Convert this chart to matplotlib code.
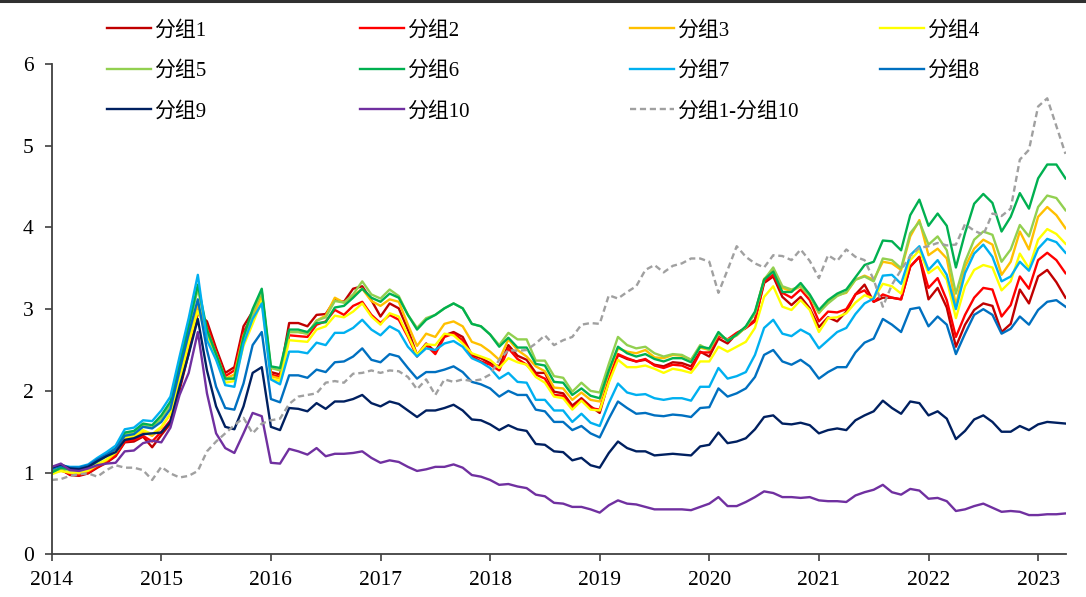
import numpy as np
import matplotlib
matplotlib.use("Agg")
import matplotlib.pyplot as plt
from matplotlib.lines import Line2D

plt.rcParams['font.family'] = ['Liberation Serif', 'Noto Sans CJK SC', 'DejaVu Sans']

# ---------------- data (monthly, Jan 2014 .. Apr 2023) ----------------
start_year = 2014
year_ticks = [2014, 2015, 2016, 2017, 2018, 2019, 2020, 2021, 2022, 2023]
y_ticks = [0, 1, 2, 3, 4, 5, 6]

labels = ['分组1', '分组2', '分组3', '分组4', '分组5', '分组6', '分组7', '分组8', '分组9', '分组10']
spread_label = '分组1-分组10'

g1 = [1.03, 1.04, 0.97, 0.96, 0.99, 1.06, 1.12, 1.20, 1.37, 1.38, 1.44, 1.31,
      1.46, 1.60, 2.01, 2.46, 2.95, 2.85, 2.52, 2.22, 2.29, 2.79, 2.97, 3.20,
      2.23, 2.20, 2.83, 2.83, 2.79, 2.93, 2.94, 3.11, 3.09, 3.25, 3.28, 3.11,
      2.91, 3.07, 3.01, 2.75, 2.44, 2.58, 2.48, 2.68, 2.72, 2.66, 2.44, 2.40,
      2.34, 2.30, 2.56, 2.43, 2.38, 2.22, 2.22, 1.99, 1.97, 1.82, 1.91, 1.81,
      1.73, 2.12, 2.44, 2.39, 2.36, 2.38, 2.32, 2.30, 2.35, 2.34, 2.30, 2.48,
      2.42, 2.64, 2.58, 2.70, 2.77, 2.87, 3.32, 3.40, 3.15, 3.05, 3.15, 3.01,
      2.78, 2.90, 2.85, 2.97, 3.18, 3.30, 3.09, 3.14, 3.14, 3.12, 3.52, 3.64,
      3.12, 3.26, 3.02, 2.54, 2.81, 2.99, 3.07, 3.04, 2.72, 2.82, 3.24, 3.07,
      3.40, 3.48, 3.33, 3.14]
g2 = [1.02, 1.03, 0.98, 0.97, 1.00, 1.07, 1.13, 1.21, 1.38, 1.40, 1.45, 1.38,
      1.50, 1.64, 2.05, 2.50, 3.00, 2.80, 2.48, 2.18, 2.25, 2.72, 2.92, 3.18,
      2.20, 2.17, 2.68, 2.67, 2.66, 2.81, 2.85, 2.99, 2.93, 3.04, 3.09, 2.93,
      2.83, 2.93, 2.87, 2.66, 2.42, 2.56, 2.45, 2.66, 2.70, 2.62, 2.42, 2.36,
      2.32, 2.25, 2.52, 2.39, 2.32, 2.20, 2.15, 1.95, 1.94, 1.79, 1.89, 1.79,
      1.77, 2.14, 2.45, 2.40, 2.36, 2.39, 2.31, 2.28, 2.32, 2.31, 2.26, 2.47,
      2.47, 2.67, 2.63, 2.71, 2.77, 2.85, 3.34, 3.42, 3.20, 3.14, 3.24, 3.11,
      2.85, 2.97, 2.96, 3.00, 3.18, 3.23, 3.09, 3.18, 3.14, 3.12, 3.52, 3.64,
      3.26, 3.38, 3.11, 2.66, 2.93, 3.14, 3.26, 3.24, 2.91, 3.05, 3.40, 3.25,
      3.60, 3.69, 3.60, 3.44]
g3 = [1.00, 1.02, 1.00, 0.99, 1.02, 1.09, 1.15, 1.24, 1.41, 1.43, 1.50, 1.45,
      1.55, 1.72, 2.15, 2.62, 3.05, 2.75, 2.45, 2.15, 2.20, 2.68, 2.90, 3.15,
      2.18, 2.15, 2.72, 2.72, 2.70, 2.86, 2.92, 3.14, 3.08, 3.16, 3.25, 3.10,
      3.04, 3.12, 3.09, 2.81, 2.55, 2.70, 2.66, 2.82, 2.85, 2.79, 2.60, 2.56,
      2.48, 2.38, 2.63, 2.50, 2.42, 2.30, 2.24, 2.04, 2.03, 1.89, 1.98, 1.89,
      1.87, 2.22, 2.52, 2.48, 2.46, 2.50, 2.41, 2.40, 2.44, 2.43, 2.38, 2.53,
      2.50, 2.70, 2.62, 2.68, 2.78, 2.95, 3.37, 3.47, 3.26, 3.22, 3.28, 3.16,
      2.95, 3.09, 3.17, 3.20, 3.36, 3.41, 3.36, 3.58, 3.56, 3.48, 3.89, 4.09,
      3.66, 3.74, 3.62, 3.05, 3.52, 3.74, 3.85, 3.79, 3.42, 3.58, 3.95, 3.73,
      4.13, 4.25, 4.15, 3.99]
g4 = [0.98, 1.02, 1.00, 1.00, 1.03, 1.10, 1.16, 1.25, 1.43, 1.45, 1.52, 1.47,
      1.56, 1.72, 2.12, 2.58, 2.98, 2.70, 2.40, 2.10, 2.12, 2.55, 2.82, 3.10,
      2.15, 2.12, 2.62, 2.61, 2.60, 2.75, 2.79, 2.92, 2.90, 2.97, 3.07, 2.91,
      2.81, 2.95, 2.91, 2.68, 2.44, 2.57, 2.56, 2.70, 2.68, 2.58, 2.46, 2.42,
      2.38, 2.28, 2.40, 2.35, 2.32, 2.17, 2.10, 1.93, 1.91, 1.77, 1.88, 1.77,
      1.76, 2.10, 2.38, 2.29, 2.29, 2.31, 2.27, 2.22, 2.27, 2.25, 2.22, 2.36,
      2.36, 2.54, 2.48, 2.54, 2.60, 2.77, 3.15, 3.28, 3.03, 2.99, 3.11, 2.99,
      2.72, 2.89, 2.90, 2.95, 3.08, 3.17, 3.13, 3.31, 3.28, 3.19, 3.60, 3.72,
      3.44, 3.52, 3.36, 2.89, 3.28, 3.48, 3.54, 3.51, 3.23, 3.34, 3.68, 3.50,
      3.85, 3.98, 3.92, 3.80]
g5 = [1.01, 1.05, 1.03, 1.03, 1.06, 1.13, 1.20, 1.29, 1.47, 1.49, 1.58, 1.55,
      1.66, 1.83, 2.30, 2.78, 3.25, 2.72, 2.45, 2.14, 2.15, 2.65, 2.95, 3.22,
      2.28, 2.25, 2.72, 2.72, 2.70, 2.86, 2.90, 3.10, 3.08, 3.18, 3.34, 3.18,
      3.13, 3.24, 3.16, 2.93, 2.77, 2.89, 2.93, 3.01, 3.07, 3.01, 2.82, 2.79,
      2.69, 2.56, 2.71, 2.63, 2.63, 2.37, 2.37, 2.18, 2.16, 1.99, 2.10, 2.00,
      1.98, 2.33, 2.66, 2.56, 2.52, 2.54, 2.46, 2.42, 2.45, 2.44, 2.38, 2.56,
      2.50, 2.70, 2.62, 2.68, 2.78, 2.95, 3.36, 3.51, 3.28, 3.24, 3.28, 3.16,
      2.96, 3.07, 3.16, 3.21, 3.36, 3.40, 3.34, 3.62, 3.60, 3.50, 3.93, 4.07,
      3.79, 3.89, 3.72, 3.19, 3.58, 3.85, 3.95, 3.91, 3.58, 3.73, 4.03, 3.89,
      4.25, 4.39, 4.36, 4.21]
g6 = [1.00, 1.06, 1.04, 1.04, 1.07, 1.14, 1.21, 1.30, 1.49, 1.51, 1.60, 1.58,
      1.70, 1.87, 2.33, 2.80, 3.30, 2.75, 2.45, 2.15, 2.15, 2.66, 3.00, 3.25,
      2.30, 2.28, 2.75, 2.75, 2.72, 2.83, 2.84, 3.02, 3.04, 3.14, 3.25, 3.14,
      3.09, 3.19, 3.14, 2.93, 2.75, 2.87, 2.93, 3.01, 3.07, 3.01, 2.82, 2.79,
      2.69, 2.54, 2.65, 2.53, 2.53, 2.33, 2.31, 2.11, 2.10, 1.95, 2.03, 1.94,
      1.91, 2.25, 2.54, 2.46, 2.42, 2.45, 2.39, 2.36, 2.40, 2.40, 2.35, 2.54,
      2.52, 2.72, 2.61, 2.69, 2.79, 2.97, 3.36, 3.46, 3.21, 3.21, 3.32, 3.18,
      2.99, 3.11, 3.19, 3.24, 3.39, 3.54, 3.58, 3.84, 3.83, 3.72, 4.15, 4.34,
      4.02, 4.17, 4.02, 3.51, 3.93, 4.29, 4.41, 4.30, 3.95, 4.13, 4.42, 4.23,
      4.60, 4.77, 4.77, 4.60]
g7 = [1.04, 1.09, 1.07, 1.07, 1.10, 1.18, 1.25, 1.33, 1.53, 1.55, 1.64, 1.63,
      1.76, 1.93, 2.42, 2.89, 3.42, 2.62, 2.38, 2.07, 2.05, 2.58, 2.88, 3.07,
      2.14, 2.08, 2.48, 2.48, 2.46, 2.59, 2.56, 2.71, 2.71, 2.77, 2.87, 2.75,
      2.68, 2.79, 2.73, 2.54, 2.42, 2.52, 2.50, 2.58, 2.61, 2.54, 2.40, 2.35,
      2.28, 2.15, 2.22, 2.11, 2.10, 1.89, 1.89, 1.76, 1.76, 1.62, 1.72, 1.61,
      1.57, 1.85, 2.09, 1.98, 1.95, 1.96, 1.91, 1.89, 1.91, 1.91, 1.88, 2.05,
      2.05, 2.28, 2.15, 2.18, 2.23, 2.44, 2.77, 2.87, 2.70, 2.67, 2.75, 2.69,
      2.52, 2.62, 2.72, 2.77, 2.94, 3.07, 3.13, 3.41, 3.42, 3.31, 3.66, 3.77,
      3.48, 3.60, 3.42, 3.00, 3.44, 3.68, 3.79, 3.64, 3.34, 3.40, 3.58, 3.47,
      3.74, 3.86, 3.82, 3.69]
g8 = [1.05, 1.08, 1.06, 1.06, 1.09, 1.16, 1.22, 1.29, 1.45, 1.47, 1.56, 1.54,
      1.62, 1.78, 2.25, 2.70, 3.12, 2.50, 2.05, 1.79, 1.77, 2.09, 2.56, 2.72,
      1.90, 1.86, 2.19, 2.19, 2.16, 2.26, 2.23, 2.35, 2.36, 2.42, 2.52, 2.38,
      2.35, 2.45, 2.42, 2.28, 2.15, 2.23, 2.23, 2.26, 2.30, 2.23, 2.11, 2.08,
      2.03, 1.93, 2.00, 1.95, 1.95, 1.77, 1.75, 1.62, 1.62, 1.52, 1.57, 1.48,
      1.43, 1.66, 1.87, 1.79, 1.72, 1.73, 1.70, 1.69, 1.71, 1.70, 1.68, 1.79,
      1.80, 2.03, 1.93, 1.97, 2.03, 2.17, 2.44, 2.50, 2.36, 2.32, 2.38, 2.30,
      2.15, 2.23, 2.29, 2.29, 2.47, 2.59, 2.64, 2.88, 2.81, 2.72, 3.00, 3.02,
      2.79, 2.91, 2.81, 2.45, 2.70, 2.93, 3.00, 2.93, 2.70, 2.76, 2.91, 2.81,
      2.99, 3.09, 3.11, 3.03]
g9 = [1.06, 1.10, 1.05, 1.04, 1.07, 1.14, 1.20, 1.25, 1.40, 1.42, 1.47, 1.48,
      1.49, 1.62, 2.05, 2.45, 2.88, 2.25, 1.81, 1.56, 1.53, 1.81, 2.22, 2.29,
      1.56, 1.52, 1.79, 1.78, 1.75, 1.85, 1.78, 1.87, 1.87, 1.90, 1.95, 1.85,
      1.81, 1.87, 1.84, 1.76, 1.68, 1.76, 1.76, 1.79, 1.83, 1.76, 1.65, 1.64,
      1.59, 1.52, 1.58, 1.53, 1.51, 1.35, 1.34, 1.26, 1.25, 1.15, 1.18, 1.09,
      1.06, 1.24, 1.38, 1.30, 1.26, 1.26, 1.21, 1.22, 1.23, 1.22, 1.21, 1.32,
      1.34, 1.49, 1.36, 1.38, 1.42, 1.53, 1.68, 1.70, 1.60, 1.59, 1.61, 1.58,
      1.48, 1.52, 1.54, 1.52, 1.64, 1.70, 1.75, 1.88, 1.79, 1.72, 1.87, 1.85,
      1.70, 1.75, 1.66, 1.41, 1.51, 1.65, 1.70, 1.62, 1.50, 1.50, 1.57, 1.52,
      1.59, 1.62, 1.61, 1.60]
g10 = [1.07, 1.11, 1.03, 1.02, 1.05, 1.09, 1.11, 1.12, 1.26, 1.27, 1.36, 1.39,
       1.37, 1.55, 1.95, 2.22, 2.72, 1.97, 1.48, 1.30, 1.24, 1.48, 1.73, 1.69,
       1.12, 1.11, 1.29, 1.26, 1.22, 1.30, 1.20, 1.23, 1.23, 1.24, 1.26, 1.18,
       1.12, 1.15, 1.13, 1.07, 1.02, 1.04, 1.07, 1.07, 1.10, 1.06, 0.97, 0.95,
       0.91, 0.85, 0.86, 0.83, 0.81, 0.73, 0.71, 0.63, 0.62, 0.58, 0.58, 0.55,
       0.51, 0.60, 0.66, 0.62, 0.61, 0.58, 0.55, 0.55, 0.55, 0.55, 0.54, 0.58,
       0.62, 0.70, 0.59, 0.59, 0.64, 0.70, 0.77, 0.75, 0.70, 0.70, 0.69, 0.70,
       0.66, 0.65, 0.65, 0.64, 0.72, 0.76, 0.79, 0.85, 0.76, 0.73, 0.80, 0.78,
       0.68, 0.69, 0.65, 0.53, 0.55, 0.59, 0.62, 0.57, 0.52, 0.53, 0.52, 0.48,
       0.48, 0.49, 0.49, 0.50]
spread = [0.91, 0.92, 0.96, 0.98, 0.99, 0.95, 1.03, 1.09, 1.06, 1.06, 1.03, 0.91,
          1.07, 0.99, 0.94, 0.96, 1.02, 1.26, 1.38, 1.48, 1.58, 1.67, 1.48, 1.60,
          1.64, 1.66, 1.84, 1.93, 1.95, 1.97, 2.10, 2.12, 2.10, 2.21, 2.22, 2.25,
          2.22, 2.25, 2.24, 2.17, 2.02, 2.14, 1.95, 2.14, 2.11, 2.14, 2.12, 2.14,
          2.20, 2.38, 2.50, 2.49, 2.50, 2.58, 2.68, 2.56, 2.62, 2.66, 2.81, 2.83,
          2.82, 3.17, 3.13, 3.21, 3.28, 3.48, 3.54, 3.45, 3.53, 3.56, 3.62, 3.62,
          3.58, 3.20, 3.48, 3.77, 3.64, 3.56, 3.51, 3.66, 3.65, 3.60, 3.73, 3.59,
          3.38, 3.66, 3.59, 3.73, 3.64, 3.60, 3.36, 3.03, 3.30, 3.48, 3.65, 3.75,
          3.77, 3.81, 3.78, 3.79, 4.04, 3.96, 3.91, 4.17, 4.14, 4.23, 4.83, 4.95,
          5.48, 5.58, 5.24, 4.90]

series = [g1, g2, g3, g4, g5, g6, g7, g8, g9, g10]
colors = ['#C00000', '#FF0000', '#FFC000', '#FFFF00', '#92D050',
          '#00B050', '#00B0F0', '#0070C0', '#002060', '#7030A0']
spread_color = '#A0A0A0'

# ---------------- figure ----------------
W, H = 1086, 597
fig = plt.figure(figsize=(W / 100, H / 100), dpi=100)
ax = fig.add_axes([51.7 / W, 1 - 554.3 / H, (1065.5 - 51.7) / W, (554.3 - 64) / H])

x = start_year + np.arange(len(g1)) / 12.0
lines = []
for vals, lab, col in zip(series, labels, colors):
    ln, = ax.plot(x, vals, color=col, lw=1.7, label=lab)
    lines.append(ln)
sp, = ax.plot(x, spread, color=spread_color, lw=1.7, ls=(0, (2.6, 1.6)), label=spread_label)
lines.append(sp)

ax.set_xlim(x[0], x[-1])
ax.set_ylim(0, 6)
ax.set_xticks(year_ticks)
ax.set_xticklabels([str(y) for y in year_ticks])
ax.set_yticks(y_ticks)
ax.set_yticklabels([str(v) for v in y_ticks])

for s in ['top', 'right']:
    ax.spines[s].set_visible(False)
for s in ['left', 'bottom']:
    ax.spines[s].set_color('#404040')
    ax.spines[s].set_linewidth(1.3)
ax.tick_params(axis='both', direction='out', length=5, width=1.2, color='#404040',
               labelsize=15.5, labelcolor='black')
ax.tick_params(axis='y', pad=8)
ax.tick_params(axis='x', pad=7)

# legend: four columns of three entries
col_x = [107, 360, 630, 880]
cols = [[0, 4, 8], [1, 5, 9], [2, 6, 10], [3, 7]]
for cx, idx in zip(col_x, cols):
    fig.legend(handles=[lines[i] for i in idx], labels=[lines[i].get_label() for i in idx],
               loc='upper left', bbox_to_anchor=(cx / W, 1 - 20.5 / H),
               frameon=False, borderpad=0, borderaxespad=0, fontsize=15,
               handlelength=2.1, handletextpad=0.15, labelspacing=1.0)

fig.add_artist(Line2D([0, 1], [1 - 1 / H, 1 - 1 / H], transform=fig.transFigure,
                      color='#303030', lw=2.2))

fig.savefig('out.png', dpi=100)
